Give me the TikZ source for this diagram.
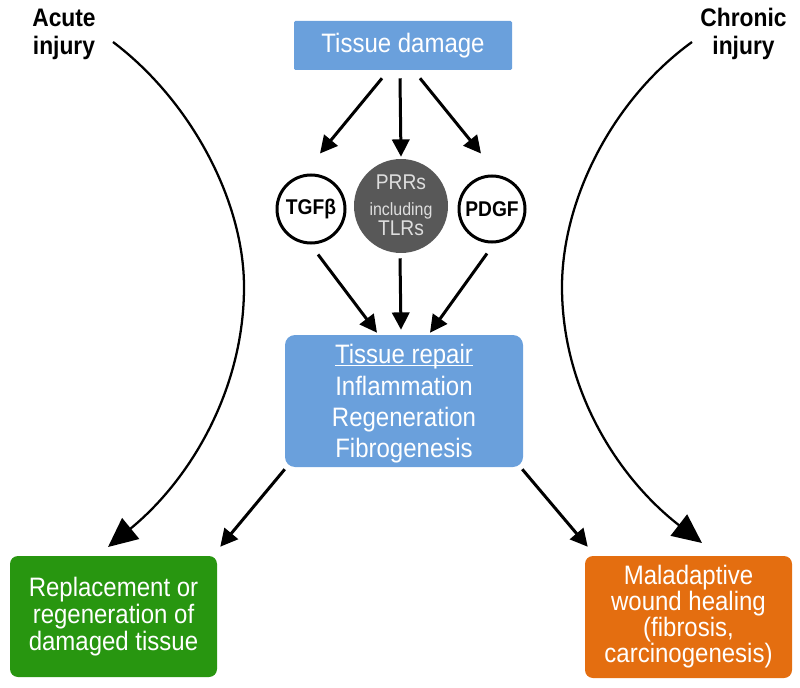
\documentclass[tikz,border=0pt]{standalone}
\usepackage{fontspec}
\setmainfont{Liberation Sans}[FakeStretch=0.9]
\usetikzlibrary{arrows.meta,calc}
\definecolor{tblue}{RGB}{106,160,220}
\definecolor{tgreen}{RGB}{40,150,16}
\definecolor{torange}{RGB}{228,110,16}
\definecolor{tgray}{RGB}{88,88,88}
\definecolor{tlight}{RGB}{222,222,222}
\begin{document}
\begin{tikzpicture}[x=0.75pt,y=-0.75pt,
  box/.style={fill=tblue, text=white, inner sep=0pt, align=center,
    font=\fontsize{20}{23.5}\selectfont},
  ring/.style={circle, draw=black, line width=2.25pt, fill=white, inner sep=0pt,
    font=\bfseries\fontsize{16}{17}\selectfont},
  prrtext/.style={anchor=base, text=tlight, inner sep=0pt},
  arr/.style={line width=2.25pt, -{Triangle[length=13pt,width=13pt]}},
  bigarr/.style={line width=1.7pt, -{Triangle[length=22pt,width=20pt]}},
  inj/.style={align=center, inner sep=0pt, font=\bfseries\fontsize{19}{21}\selectfont}]
\useasboundingbox (0,0) rectangle (800,688);

% labels
\node[inj] (acute) at (64,34) {Acute\\injury};
\node[inj] (chronic) at (743.5,34) {Chronic\\injury};

% top box
\node[box, minimum width=163.5pt, minimum height=36.75pt, rounded corners=1pt] (td) at (403,45.5) {Tissue damage};

% circles
\node[ring, minimum size=51pt] (tgf) at (311,209) {TGFβ};
\node[ring, minimum size=49.5pt] (pdgf) at (492,209) {PDGF};
\node[circle, fill=tgray, minimum size=70.5pt, inner sep=0pt] (prr) at (401,206) {};
\node[prrtext, font=\fontsize{16}{16}\selectfont] (prr1) at ($(prr.center)+(0,-16)$) {PRRs};
\node[prrtext, font=\fontsize{13.3}{14}\selectfont] (prr2) at ($(prr.center)+(0,9)$) {including};
\node[prrtext, font=\fontsize{16}{16}\selectfont] (prr3) at ($(prr.center)+(0,30)$) {TLRs};

% repair box
\node[box, minimum width=178.5pt, minimum height=99pt, rounded corners=7.5pt] (rep) at (404,401) {};
\node[box, fill=none] (reptext) at ($(rep.center)+(0,3)$)
  {\underline{\raisebox{0pt}[\height][0pt]{Tissue repair}}\\Inflammation\\Regeneration\\Fibrogenesis};

% outcome boxes
\node[box, fill=tgreen, minimum width=155.25pt, minimum height=90.75pt, rounded corners=6pt,
  font=\fontsize{20}{20.5}\selectfont] (green) at (113.5,616.5)
  {Replacement or\\regeneration of\\damaged tissue};
\node[box, fill=torange, minimum width=155.25pt, minimum height=91.5pt, rounded corners=6pt,
  font=\fontsize{20}{19.5}\selectfont] (orange) at (688.5,617)
  {Maladaptive\\wound healing\\(fibrosis,\\carcinogenesis)};

% arrows from tissue damage
\draw[arr] ($(td.south)+(-21,8)$) -- ($(tgf.north)+(9,-20)$);
\draw[arr] ($(td.south)+(-3,8)$) -- ($(prr.north)+(0,-2)$);
\draw[arr] ($(td.south)+(17,8)$) -- ($(pdgf.north)+(-11,-21)$);

% arrows into repair
\draw[arr] ($(tgf.south)+(7,10)$) -- ($(rep.north)+(-27,-2)$);
\draw[arr] ($(prr.south)+(-1,5)$) -- ($(rep.north)+(-3,-5)$);
\draw[arr] ($(pdgf.south)+(-5,10)$) -- ($(rep.north)+(26,-2)$);

% arrows to outcomes
\draw[arr] ($(rep.south west)+(0,2)$) -- ($(green.north east)+(3,-9)$);
\draw[arr] ($(rep.south east)+(-1,2)$) -- ($(orange.north west)+(3,-9)$);

% injury curves
\coordinate (acS) at (113,42);
\coordinate (acE) at (108,547);
\draw[bigarr] (acS) .. controls (190,100) and (244,200) .. (244,287)
  .. controls (244,390) and (190,480) .. (acE);
\coordinate (chS) at (692,42);
\coordinate (chE) at (702,543);
\draw[bigarr] (chS) .. controls (612,100) and (562,200) .. (562,287)
  .. controls (562,390) and (618,478) .. (chE);
\end{tikzpicture}
\end{document}
